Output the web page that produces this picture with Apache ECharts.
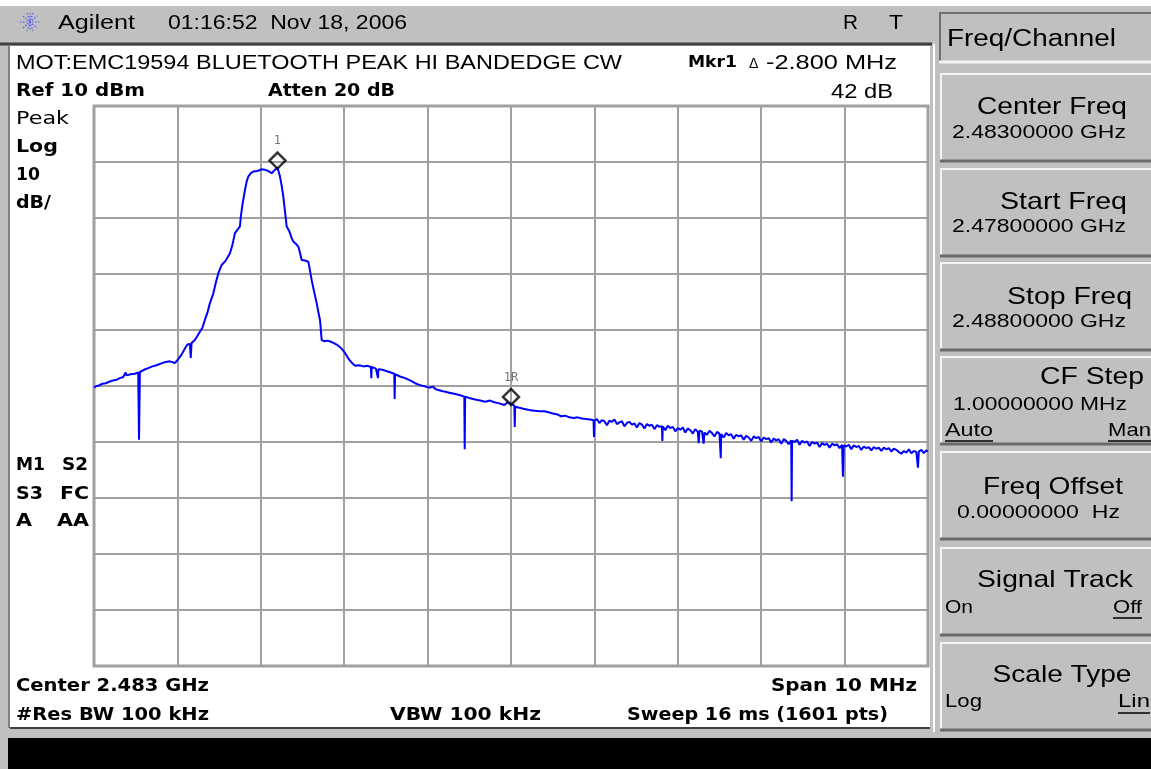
<!DOCTYPE html>
<html>
<head>
<meta charset="utf-8">
<script src="https://cdn.jsdelivr.net/npm/echarts@6/dist/echarts.min.js"></script>
<style>
html,body{margin:0;padding:0;background:#fff;}
#c{width:1151px;height:769px;}
</style>
</head>
<body>
<div id="c"></div>
<script>
// ---- Data: trace frequency (MHz) and level (dBm) ----
const freqMHz = [
2478.00,2478.03,2478.06,2478.10,2478.14,2478.19,2478.23,2478.27,2478.31,2478.35,
2478.38,2478.39,2478.44,2478.49,2478.53,2478.54,2478.55,2478.60,2478.65,2478.70,
2478.75,2478.80,2478.86,2478.91,2478.97,2479.00,2479.05,2479.09,2479.12,2479.15,
2479.16,2479.17,2479.21,2479.25,2479.27,2479.30,2479.33,2479.36,2479.39,2479.43,
2479.46,2479.49,2479.53,2479.58,2479.63,2479.66,2479.69,2479.73,2479.75,2479.76,
2479.78,2479.81,2479.83,2479.85,2479.88,2479.91,2479.96,2480.01,2480.05,2480.09,
2480.13,2480.15,2480.17,2480.20,2480.23,2480.25,2480.27,2480.29,2480.31,2480.34,
2480.37,2480.39,2480.42,2480.45,2480.47,2480.49,2480.53,2480.57,2480.59,2480.61,
2480.64,2480.67,2480.69,2480.71,2480.73,2480.76,2480.80,2480.84,2480.87,2480.91,
2480.96,2481.00,2481.03,2481.06,2481.10,2481.13,2481.18,2481.23,2481.28,2481.32,
2481.325,2481.33,2481.38,2481.40,2481.405,2481.41,2481.46,2481.52,2481.56,2481.60,
2481.605,2481.61,2481.67,2481.73,2481.79,2481.85,2481.90,2481.95,2482.00,2482.03,
2482.06,2482.10,2482.15,2482.20,2482.26,2482.32,2482.38,2482.44,2482.445,2482.45,
2482.51,2482.57,2482.63,2482.69,2482.75,2482.80,2482.86,2482.92,2482.96,2483.00,
2483.04,2483.045,2483.05,2483.10,2483.16,2483.22,2483.28,2483.34,2483.40,2483.45,
2483.50,2483.56,2483.60,2483.65,2483.70,2483.75,2483.80,2483.85,2483.90,2483.95,
2483.99,2483.995,2484.00,2484.03,2484.06,2484.09,2484.12,2484.15,2484.18,2484.21,
2484.24,2484.27,2484.30,2484.33,2484.36,2484.39,2484.42,2484.45,2484.48,2484.51,
2484.54,2484.57,2484.60,2484.63,2484.66,2484.69,2484.72,2484.75,2484.78,2484.81,
2484.815,2484.82,2484.85,2484.88,2484.91,2484.94,2484.97,2485.00,2485.03,2485.06,
2485.09,2485.12,2485.15,2485.18,2485.21,2485.24,2485.25,2485.26,2485.29,2485.31,
2485.32,2485.35,2485.38,2485.41,2485.44,2485.47,2485.50,2485.515,2485.52,2485.55,
2485.58,2485.61,2485.64,2485.67,2485.70,2485.73,2485.76,2485.79,2485.82,2485.85,
2485.88,2485.91,2485.94,2485.97,2486.00,2486.03,2486.06,2486.09,2486.12,2486.15,
2486.18,2486.21,2486.24,2486.27,2486.30,2486.33,2486.36,2486.365,2486.37,2486.40,
2486.43,2486.46,2486.49,2486.52,2486.55,2486.58,2486.61,2486.64,2486.67,2486.70,
2486.73,2486.76,2486.79,2486.82,2486.85,2486.88,2486.91,2486.94,2486.97,2486.98,
2486.99,2487.02,2487.05,2487.08,2487.11,2487.14,2487.17,2487.20,2487.23,2487.26,
2487.29,2487.32,2487.35,2487.38,2487.41,2487.44,2487.47,2487.50,2487.53,2487.56,
2487.59,2487.62,2487.65,2487.68,2487.71,2487.74,2487.77,2487.80,2487.83,2487.86,
2487.88,2487.89,2487.92,2487.95,2487.98,2488.00
];
const levelDbm = [
-40.3,-40.0,-39.9,-39.6,-39.5,-39.2,-39.0,-38.9,-38.6,-38.4,
-37.6,-38.1,-37.9,-37.8,-37.6,-49.6,-37.5,-37.1,-36.8,-36.5,
-36.3,-36.0,-35.7,-35.6,-35.9,-35.4,-34.4,-33.3,-32.6,-32.5,
-35.0,-32.3,-31.8,-30.8,-30.3,-29.6,-28.2,-26.9,-25.2,-23.5,
-21.6,-19.9,-18.4,-17.6,-16.3,-14.8,-12.7,-11.9,-11.5,-9.8,
-7.6,-5.0,-3.5,-2.6,-2.0,-1.7,-1.6,-1.3,-1.4,-1.6,
-2.0,-2.1,-1.4,-1.0,-2.6,-4.2,-6.2,-8.8,-11.5,-12.3,
-13.6,-14.2,-14.6,-15.1,-16.2,-17.5,-17.6,-17.8,-19.4,-21.1,
-23.2,-25.2,-26.8,-28.2,-31.8,-32.0,-31.9,-32.1,-32.3,-32.6,
-33.2,-33.9,-34.6,-35.3,-36.0,-36.4,-36.3,-36.5,-36.4,-36.6,
-38.6,-36.6,-36.9,-37.0,-38.6,-37.0,-37.1,-37.4,-37.6,-37.8,
-42.3,-37.9,-38.3,-38.6,-39.0,-39.5,-39.8,-40.0,-40.2,-40.3,
-40.1,-40.6,-40.8,-41.0,-41.2,-41.4,-41.6,-41.9,-51.3,-41.9,
-42.2,-42.4,-42.6,-42.8,-42.6,-42.9,-43.1,-43.4,-42.9,-43.2,
-43.5,-47.3,-43.7,-43.9,-44.1,-44.3,-44.4,-44.5,-44.5,-44.7,
-44.9,-45.1,-45.4,-45.3,-45.6,-45.7,-45.6,-45.8,-45.9,-46.0,
-46.1,-49.1,-46.2,-45.9,-46.6,-46.1,-46.3,-47.0,-46.2,-46.4,
-46.0,-46.8,-46.5,-46.3,-47.2,-46.6,-46.4,-46.9,-46.7,-47.4,
-46.6,-46.9,-47.6,-46.8,-47.1,-46.9,-47.7,-47.0,-47.3,-47.2,
-49.8,-47.2,-47.9,-47.1,-47.5,-47.3,-48.1,-47.5,-47.8,-47.4,
-48.3,-47.6,-47.9,-48.5,-47.7,-48.2,-50.2,-48.0,-48.1,-50.3,
-48.3,-48.7,-48.0,-48.4,-49.0,-48.2,-48.5,-52.9,-48.6,-49.2,
-48.4,-48.8,-48.6,-49.4,-48.7,-49.0,-48.8,-49.6,-48.9,-49.2,
-49.8,-49.0,-49.3,-49.1,-49.9,-49.2,-49.5,-49.3,-50.1,-49.4,
-49.7,-49.5,-50.3,-49.5,-49.8,-50.4,-49.7,-60.6,-49.8,-50.0,
-49.6,-50.5,-49.8,-50.1,-49.9,-50.7,-50.0,-50.3,-50.1,-50.9,
-50.2,-50.5,-50.3,-51.0,-50.3,-50.6,-50.4,-51.1,-50.5,-56.2,
-50.6,-50.8,-50.5,-51.3,-50.6,-50.9,-50.7,-51.4,-50.8,-51.1,
-50.9,-51.5,-50.9,-51.2,-51.0,-51.6,-51.0,-51.3,-51.1,-51.7,
-51.2,-51.4,-51.8,-52.1,-51.6,-51.9,-51.3,-52.0,-51.6,-51.8,
-54.6,-51.7,-51.4,-52.0,-51.5,-51.7
];
const markerFreq = [2480.20, 2483.00];
const markerLevel = [-1.0, -43.2];
const markerLabel = ['1', '1R'];
const freqMin = 2478, freqMax = 2488, freqStep = 1;
const refLevel = 10, bottomLevel = -90, dbPerDiv = 10;

// ---- Layout helpers ----
const SANS = '"Liberation Sans", Arial, sans-serif';
const VERD = '"DejaVu Sans", Verdana, sans-serif';
const mctx = document.createElement('canvas').getContext('2d');
const G = [];
function rect(x, y, w, h, fill, z) { G.push({type:'rect', z: z||0, silent:true, shape:{x, y, width:w, height:h}, style:{fill}}); }
function line(x1, y1, x2, y2, stroke, w, z) { G.push({type:'line', z: z||1, silent:true, shape:{x1, y1, x2, y2}, style:{stroke, lineWidth:w||1}}); }
function txt(x, y, t, o) {
  o = o || {};
  const font = (o.weight||'normal')+' '+(o.size||17)+'px '+(o.family||SANS);
  let sx = 1;
  if (o.w) { mctx.font = font; sx = o.w / mctx.measureText(t).width; }
  G.push({type:'text', z: 5, silent:true, x, y, scaleX: sx, scaleY: 1, originX: 0, originY: 0,
    style:{text:t, fill:o.color||'#000', font, textAlign:o.align||'left', textVerticalAlign:'middle'}});
}
function button(x, y, w, h, sunken) {
  rect(x, y, w, h, '#c0c0c0', 1);
  const lt = sunken ? '#707070' : '#f4f4f4', rb = sunken ? '#f4f4f4' : '#6a6a6a';
  line(x, y+1, x+w, y+1, lt, 2, 2);
  line(x+1, y, x+1, y+h, lt, 2, 2);
  line(x, y+h-1, x+w, y+h-1, rb, 3, 2);
}

// frame backgrounds
rect(0, 0, 1151, 769, '#c0c0c0', 0);
rect(0, 0, 1151, 6, '#ffffff', 0);
rect(10, 46, 920, 682, '#ffffff', 0);
line(0, 44, 932, 44, '#404040', 3, 1);
line(9, 46, 9, 728, '#808080', 2, 1);
line(10, 728, 930, 728, '#404040', 2, 1);
line(934, 44, 934, 732, '#ffffff', 2, 1);
rect(8, 738, 1143, 31, '#000000', 1);

// Agilent logo (blue burst)
const lx = 30, ly = 22;
[[0,-9,0,9],[-10,0,10,0],[-7,-6,7,6],[-7,6,7,-6],[-3,-9,3,9],[3,-9,-3,9]].forEach(a=>{
  G.push({type:'line', z:3, silent:true, shape:{x1:lx+a[0], y1:ly+a[1], x2:lx+a[2], y2:ly+a[3]}, style:{stroke:'#5a5af0', lineWidth:1.2, lineDash:[1.5,1.5]}});
});
txt(58, 23, 'Agilent', {size:20, w:77});
txt(168, 23, '01:16:52  Nov 18, 2006', {size:20, w:239});
txt(843, 23, 'R', {size:21, w:15});
txt(889, 23, 'T', {size:21, w:14});

// header in white area
txt(16, 63, 'MOT:EMC19594 BLUETOOTH PEAK HI BANDEDGE CW', {size:20, w:606});
txt(688, 63, 'Mkr1', {size:16, weight:'bold', family:VERD, w:49});
txt(749, 64, '\u0394', {size:14});
txt(897, 63, '-2.800 MHz', {size:20, align:'right', w:131});
txt(16, 92, 'Ref 10 dBm', {size:17, weight:'bold', family:VERD, w:129});
txt(268, 92, 'Atten 20 dB', {size:17, weight:'bold', family:VERD, w:127});
txt(893, 92, '42 dB', {size:20, align:'right', w:62});

// left annotations
txt(16, 119, 'Peak', {size:18, family:VERD, w:53});
txt(16, 148, 'Log', {size:17, weight:'bold', family:VERD, w:42});
txt(16, 176, '10', {size:17, weight:'bold', family:VERD, w:24});
txt(16, 204, 'dB/', {size:17, weight:'bold', family:VERD, w:35});
txt(16, 466, 'M1', {size:17, weight:'bold', family:VERD, w:29});
txt(62, 466, 'S2', {size:17, weight:'bold', family:VERD, w:26});
txt(16, 495, 'S3', {size:17, weight:'bold', family:VERD, w:27});
txt(60, 495, 'FC', {size:17, weight:'bold', family:VERD, w:29});
txt(16, 522, 'A', {size:17, weight:'bold', family:VERD, w:16});
txt(57, 522, 'AA', {size:17, weight:'bold', family:VERD, w:32});

// bottom annotations
txt(16, 687, 'Center 2.483 GHz', {size:17, weight:'bold', family:VERD, w:193});
txt(917, 687, 'Span 10 MHz', {size:17, weight:'bold', family:VERD, align:'right', w:146});
txt(16, 716, '#Res BW 100 kHz', {size:17, weight:'bold', family:VERD, w:193});
txt(390, 716, 'VBW 100 kHz', {size:17, weight:'bold', family:VERD, w:151});
txt(888, 716, 'Sweep 16 ms (1601 pts)', {size:17, weight:'bold', family:VERD, align:'right', w:261});

// right soft-key panel
button(939, 12, 212, 51, true);
txt(947, 40, 'Freq/Channel', {size:23, w:169});
const keyTops = [73, 168, 262, 356, 451, 547, 642];
keyTops.forEach(t => button(940, t, 211, 89, false));
txt(1127, 107, 'Center Freq', {size:24, align:'right', w:150});
txt(952, 133, '2.48300000 GHz', {size:19, w:174});
txt(1127, 202, 'Start Freq', {size:24, align:'right', w:127});
txt(952, 227, '2.47800000 GHz', {size:19, w:174});
txt(1132, 297, 'Stop Freq', {size:24, align:'right', w:125});
txt(952, 322, '2.48800000 GHz', {size:19, w:174});
txt(1144, 377, 'CF Step', {size:24, align:'right', w:104});
txt(953, 405, '1.00000000 MHz', {size:19, w:174});
txt(945, 431, 'Auto', {size:19, w:48});
line(945, 441, 993, 441, '#000', 1.5, 3);
txt(1151, 431, 'Man', {size:19, align:'right', w:43});
line(1108, 441, 1151, 441, '#000', 1.5, 3);
txt(1053, 487, 'Freq Offset', {size:24, align:'center', w:140});
txt(957, 513, '0.00000000  Hz', {size:19, w:163});
txt(1055, 580, 'Signal Track', {size:24, align:'center', w:156});
txt(945, 608, 'On', {size:19, w:28});
txt(1142, 608, 'Off', {size:19, align:'right', w:29});
line(1113, 618, 1142, 618, '#000', 1.5, 3);
txt(1062, 675, 'Scale Type', {size:24, align:'center', w:139});
txt(945, 702, 'Log', {size:19, w:37});
txt(1150, 702, 'Lin', {size:19, align:'right', w:32});
line(1118, 713, 1150, 713, '#000', 1.5, 3);

const chart = echarts.init(document.getElementById('c'), null, {renderer:'canvas'});
chart.setOption({
  animation: false,
  backgroundColor: 'transparent',
  graphic: {elements: G},
  grid: {left: 94, top: 106, width: 834, height: 560, show: true, borderColor: '#a0a0a0', borderWidth: 3, backgroundColor: '#ffffff', z: 3},
  xAxis: {type: 'value', min: freqMin, max: freqMax, interval: freqStep, z: 3,
    axisLine: {show: false}, axisTick: {show: false}, axisLabel: {show: false},
    splitLine: {show: true, lineStyle: {color: '#a0a0a0', width: 2}}},
  yAxis: {type: 'value', min: bottomLevel, max: refLevel, interval: dbPerDiv, z: 3,
    axisLine: {show: false}, axisTick: {show: false}, axisLabel: {show: false},
    splitLine: {show: true, lineStyle: {color: '#a0a0a0', width: 2}}},
  series: [
    {type: 'line', z: 5, showSymbol: false, symbol: 'none',
     lineStyle: {color: '#0000ff', width: 2},
     data: freqMHz.map((f, i) => [f, levelDbm[i]])},
    {type: 'scatter', z: 6, symbol: 'diamond', symbolSize: [16, 16], symbolOffset: [0, -7],
     itemStyle: {color: 'rgba(255,255,255,0)', borderColor: '#000', borderWidth: 2.5},
     label: {show: true, position: 'top', distance: 4, color: '#555', fontSize: 12, fontFamily: '"DejaVu Sans Mono", monospace',
       formatter: p => markerLabel[p.dataIndex]},
     data: markerFreq.map((f, i) => [f, markerLevel[i]])}
  ]
});
</script>
</body>
</html>
